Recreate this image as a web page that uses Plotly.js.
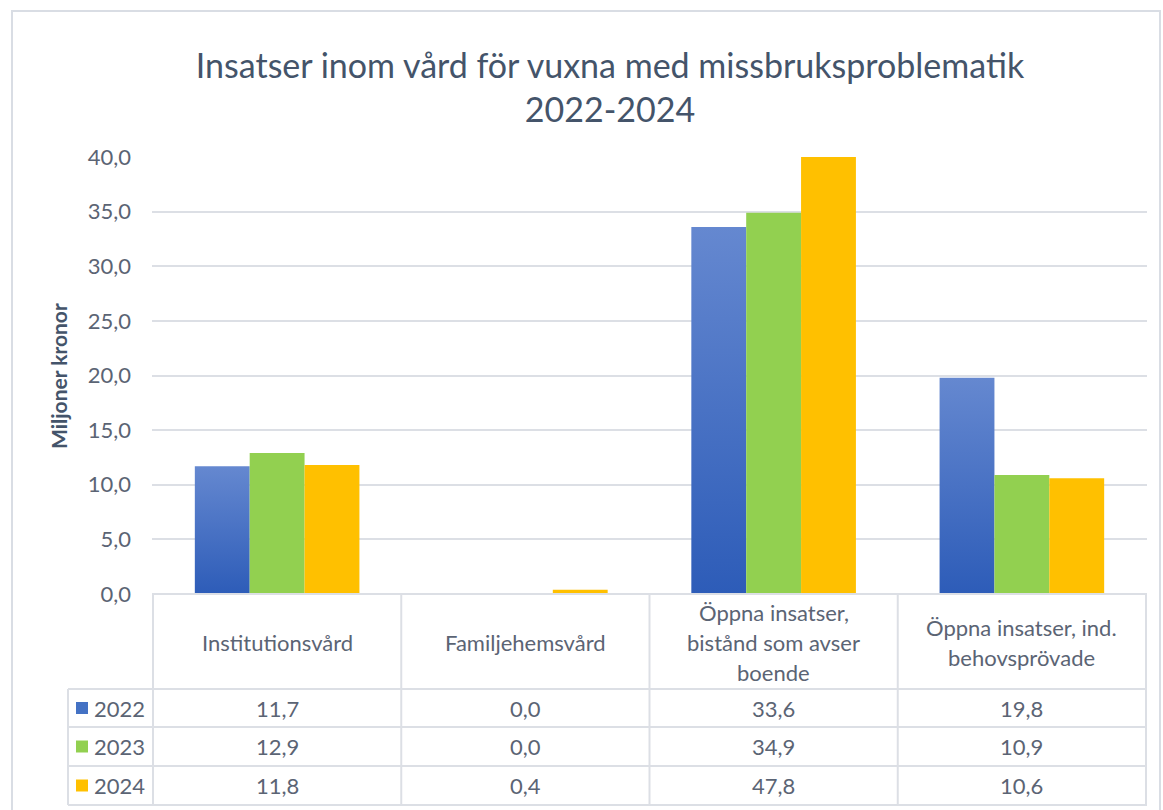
<!DOCTYPE html>
<html>
<head>
<meta charset="utf-8">
<script src="https://cdn.plot.ly/plotly-3.0.1.min.js"></script>
<style>
  html, body { margin: 0; padding: 0; background: #ffffff; }
  #chart { width: 1163px; height: 810px; }
</style>
</head>
<body>
<div id="chart"></div>
<script>
// ---- data ----
const categories = ['Institutionsvård', 'Familjehemsvård', 'Öppna insatser,<br>bistånd som avser<br>boende', 'Öppna insatser, ind.<br>behovsprövade'];
const years = ['2022', '2023', '2024'];
const values2022 = [11.7, 0.0, 33.6, 19.8];
const values2023 = [12.9, 0.0, 34.9, 10.9];
const values2024 = [11.8, 0.4, 47.8, 10.6];
const yTicks = [0, 5, 10, 15, 20, 25, 30, 35, 40];
const chartTitle = 'Insatser inom vård för vuxna med missbruksproblematik<br>2022-2024';
const yTitle = 'Miljoner kronor';

// ---- styling ----
const seriesValues = [values2022, values2023, values2024];
const colors = ['#4472C4', '#92D050', '#FFC000'];
const FONT = 'Lato, "Open Sans", sans-serif';
const textColor = '#5B6474';
const lineColor = '#DCDFE5';
const TXT = 22;

// pixel geometry of the plot area
const W = 1163, H = 810;
const L = 152, R = 1147, T = 157, B = 594;
const px = x => (x - L) / (R - L);
const py = y => (B - y) / (B - T);

const traces = years.map((yr, i) => ({
  type: 'bar',
  name: yr,
  x: categories,
  y: seriesValues[i],
  marker: { color: colors[i], line: { width: 0 } },
  hoverinfo: 'none'
}));

const shapes = [];
const annotations = [];

// outer chart border
shapes.push({ type: 'rect', xref: 'paper', yref: 'paper', x0: px(12), x1: px(1160), y0: py(830), y1: py(11),
  line: { color: '#D9DDE4', width: 2 }, fillcolor: 'rgba(0,0,0,0)', layer: 'below' });

// table geometry
const headerBottom = 689;
const rowLines = [689, 727, 766, 805];
const legendLeft = 68;

// top line (axis)
shapes.push({ type: 'line', xref: 'paper', yref: 'paper', x0: 0, x1: 1, y0: 0, y1: 0, line: { color: lineColor, width: 2 } });
// row lines
rowLines.forEach(r => shapes.push({ type: 'line', xref: 'paper', yref: 'paper', x0: px(legendLeft), x1: 1, y0: py(r), y1: py(r), line: { color: lineColor, width: 2 } }));
// vertical lines at category boundaries
for (let k = 0; k <= categories.length; k++) {
  shapes.push({ type: 'line', xref: 'x', yref: 'paper', x0: k - 0.5, x1: k - 0.5, y0: 0, y1: py(805), line: { color: lineColor, width: 2 } });
}
// legend column left edge
shapes.push({ type: 'line', xref: 'paper', yref: 'paper', x0: px(legendLeft), x1: px(legendLeft), y0: py(headerBottom), y1: py(805), line: { color: lineColor, width: 2 } });

// header labels (one annotation per line)
const headerCenter = 642, lineGap = 30;
categories.forEach((c, k) => {
  const lines = c.split('<br>');
  lines.forEach((ln, i) => {
    const yc = headerCenter + (i - (lines.length - 1) / 2) * lineGap;
    annotations.push({ xref: 'x', yref: 'paper', x: k, y: py(yc), text: ln, showarrow: false,
      xanchor: 'center', yanchor: 'middle', font: { family: FONT, size: TXT, color: textColor } });
  });
});

// data rows
const fmt = v => v.toFixed(1).replace('.', ',');
years.forEach((yr, i) => {
  const yc = (rowLines[i] + rowLines[i + 1]) / 2;
  shapes.push({ type: 'rect', xref: 'paper', yref: 'paper', x0: px(76), x1: px(88), y0: py(yc + 6), y1: py(yc - 6),
    fillcolor: colors[i], line: { width: 0 } });
  annotations.push({ xref: 'paper', yref: 'paper', x: px(92), y: py(yc), text: yr, showarrow: false,
    xanchor: 'left', yanchor: 'middle', font: { family: FONT, size: TXT, color: textColor } });
  seriesValues[i].forEach((v, k) => {
    annotations.push({ xref: 'x', yref: 'paper', x: k, y: py(yc), text: fmt(v), showarrow: false,
      xanchor: 'center', yanchor: 'middle', font: { family: FONT, size: TXT, color: textColor } });
  });
});

// y axis title
annotations.push({ xref: 'paper', yref: 'paper', x: px(58), y: py(376), text: '<b>' + yTitle + '</b>', textangle: -90,
  showarrow: false, xanchor: 'center', yanchor: 'middle', font: { family: FONT, size: 21, color: '#44546A' } });

const layout = {
  width: W, height: H,
  margin: { l: L, r: W - R, t: T, b: H - B, pad: 0 },
  paper_bgcolor: '#ffffff', plot_bgcolor: '#ffffff',
  separators: ',.',
  showlegend: false,
  barmode: 'group', bargap: 0.337, bargroupgap: 0,
  title: { text: chartTitle, x: 610 / W, xref: 'container', xanchor: 'center', y: 1 - 78 / H, yref: 'container', yanchor: 'middle',
    font: { family: FONT, size: 34, color: '#44546A' } },
  xaxis: { type: 'category', showticklabels: false, showgrid: false, zeroline: false, showline: false, ticks: '', fixedrange: true },
  yaxis: { range: [0, 40], tickvals: yTicks, tickformat: '.1f', showgrid: true, gridcolor: lineColor, gridwidth: 2,
    zeroline: false, showline: false, ticks: '', ticklabelstandoff: 20,
    tickfont: { family: FONT, size: TXT, color: textColor }, fixedrange: true },
  shapes: shapes,
  annotations: annotations
};

Plotly.newPlot('chart', traces, layout, { staticPlot: true, displayModeBar: false }).then(gd => {
  // Excel-like vertical gradient on the 2022 bars
  const svg = gd.querySelector('svg.main-svg');
  const ns = 'http://www.w3.org/2000/svg';
  let defs = svg.querySelector('defs');
  if (!defs) { defs = document.createElementNS(ns, 'defs'); svg.insertBefore(defs, svg.firstChild); }
  const g = document.createElementNS(ns, 'linearGradient');
  g.setAttribute('id', 'grad2022');
  g.setAttribute('x1', '0'); g.setAttribute('y1', '0'); g.setAttribute('x2', '0'); g.setAttribute('y2', '1');
  [['0', '#6588D0'], ['1', '#2D5CB8']].forEach(([o, c]) => {
    const s = document.createElementNS(ns, 'stop');
    s.setAttribute('offset', o); s.setAttribute('stop-color', c);
    g.appendChild(s);
  });
  defs.appendChild(g);
  const barTraces = gd.querySelectorAll('g.trace.bars');
  if (barTraces.length) {
    barTraces[0].querySelectorAll('path').forEach(p => { p.style.fill = 'url(#grad2022)'; });
  }
});
</script>
</body>
</html>
